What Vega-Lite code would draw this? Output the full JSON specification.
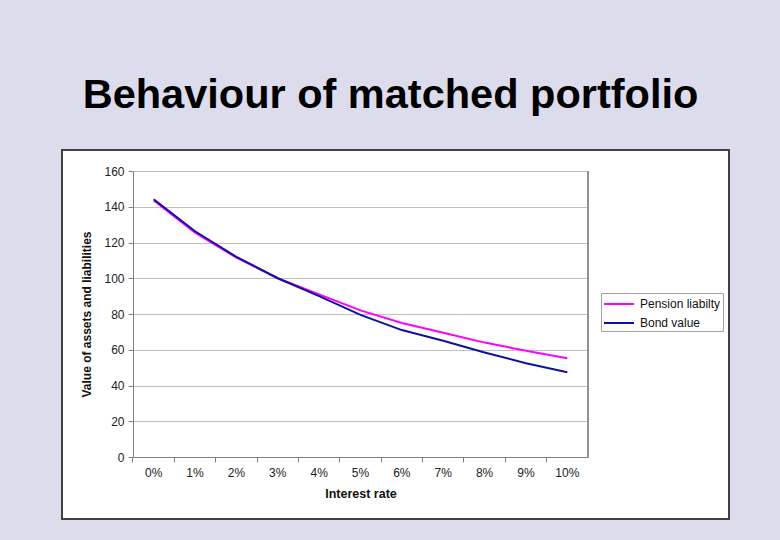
{
  "$schema": "https://vega.github.io/schema/vega-lite/v6.json",
  "autosize": {"type": "none"},
  "width": 667,
  "height": 369,
  "padding": {"left": 62, "top": 150, "right": 51, "bottom": 21},
  "background": "#dcdcec",
  "title": {"text": "Behaviour of matched portfolio", "fontSize": 41.5, "font": "Liberation Sans", "fontWeight": "bold", "color": "#000000", "anchor": "middle", "offset": 42, "baseline": "alphabetic", "dx": -5, "dy": 41},
  "config": {"view": {"fill": "white", "stroke": "#404040", "strokeWidth": 2}, "font": "Liberation Sans"},
  "data": {"values": [
    {"rate": "0%", "series": "Pension liabilty", "value": 143.5},
    {"rate": "1%", "series": "Pension liabilty", "value": 125.5},
    {"rate": "2%", "series": "Pension liabilty", "value": 111.5},
    {"rate": "3%", "series": "Pension liabilty", "value": 100},
    {"rate": "4%", "series": "Pension liabilty", "value": 91},
    {"rate": "5%", "series": "Pension liabilty", "value": 82},
    {"rate": "6%", "series": "Pension liabilty", "value": 75},
    {"rate": "7%", "series": "Pension liabilty", "value": 69.5},
    {"rate": "8%", "series": "Pension liabilty", "value": 64},
    {"rate": "9%", "series": "Pension liabilty", "value": 59.5},
    {"rate": "10%", "series": "Pension liabilty", "value": 55.2},
    {"rate": "0%", "series": "Bond value", "value": 144.2},
    {"rate": "1%", "series": "Bond value", "value": 126.3},
    {"rate": "2%", "series": "Bond value", "value": 112},
    {"rate": "3%", "series": "Bond value", "value": 100},
    {"rate": "4%", "series": "Bond value", "value": 90},
    {"rate": "5%", "series": "Bond value", "value": 79.5},
    {"rate": "6%", "series": "Bond value", "value": 71},
    {"rate": "7%", "series": "Bond value", "value": 65},
    {"rate": "8%", "series": "Bond value", "value": 58.5},
    {"rate": "9%", "series": "Bond value", "value": 52.5},
    {"rate": "10%", "series": "Bond value", "value": 47.4}
  ]},
  "layer": [
    {
      "mark": {"type": "line", "strokeWidth": 2},
      "encoding": {
        "x": {"field": "rate", "type": "ordinal", "sort": null,
          "scale": {"type": "band", "range": [71, 526], "paddingInner": 0, "paddingOuter": 0},
          "axis": {"title": "Interest rate", "offset": -62, "bandPosition": 0, "grid": false, "domainColor": "#808080", "tickColor": "#808080", "tickSize": 5, "labelAngle": 0, "labelFontSize": 12, "labelPadding": 5, "labelColor": "#222222", "titleFontSize": 12.5, "titleFontWeight": "bold", "titlePadding": 9, "titleColor": "#111111"}},
        "y": {"field": "value", "type": "quantitative",
          "scale": {"domain": [0, 160], "range": [307, 21]},
          "axis": {"title": "Value of assets and liabilities", "offset": -71, "values": [0, 20, 40, 60, 80, 100, 120, 140, 160], "grid": true, "gridColor": "#c0c0c0", "domainColor": "#808080", "tickColor": "#808080", "tickSize": 5, "labelFontSize": 12, "labelPadding": 4, "labelColor": "#222222", "titleFontSize": 12, "titleFontWeight": "bold", "titlePadding": 10, "titleColor": "#111111"}},
        "color": {"field": "series", "type": "nominal", "sort": null,
          "scale": {"domain": ["Pension liabilty", "Bond value"], "range": ["#ff00ff", "#1010a0"]},
          "legend": {"orient": "none", "legendX": 539, "legendY": 143, "title": null, "fillColor": "white", "strokeColor": "#a0a0a0", "padding": 2, "symbolType": "M-1,0H2.75", "symbolSize": 256, "symbolStrokeWidth": 2, "labelFontSize": 12, "labelOffset": 19, "labelColor": "#111111", "rowPadding": 4}}
      }
    },
    {
      "mark": {"type": "rule", "color": "#909090", "strokeWidth": 1},
      "encoding": {
        "x": {"datum": "10%", "type": "ordinal", "bandPosition": 1},
        "y": {"datum": 0, "type": "quantitative"},
        "y2": {"datum": 160}
      }
    }
  ]
}
